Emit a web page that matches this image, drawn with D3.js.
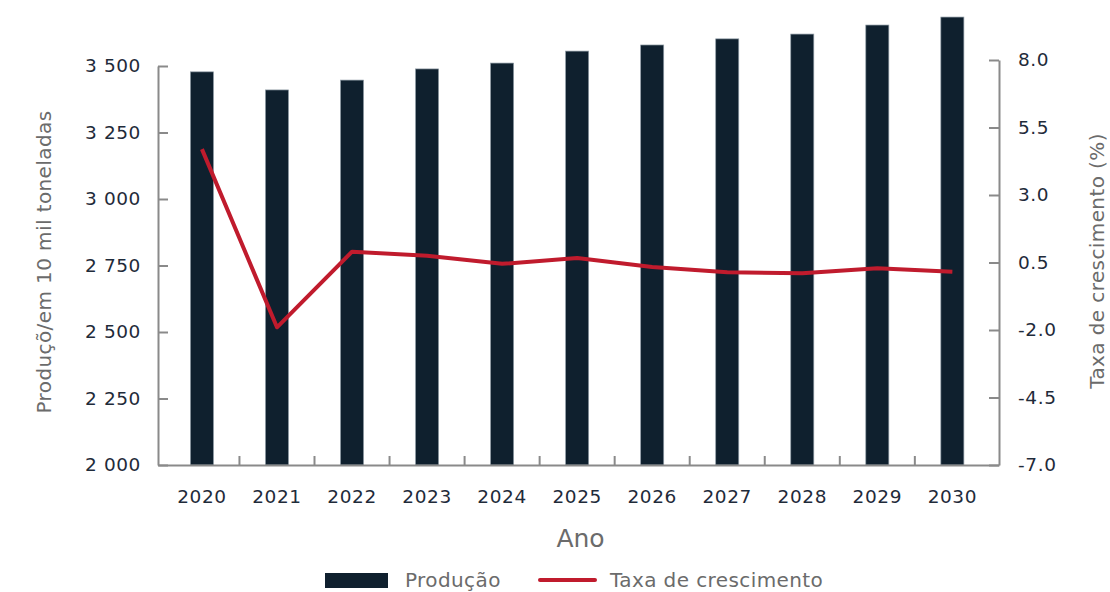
<!DOCTYPE html>
<html>
<head>
<meta charset="utf-8">
<script src="https://cdn.jsdelivr.net/npm/d3@7"></script>
<style>
  body { margin: 0; background: #fff; }
  svg text { font-family: "DejaVu Sans", sans-serif; }
</style>
</head>
<body>
<svg id="chart" width="1110" height="592"></svg>
<script>
// data
const years = ["2020", "2021", "2022", "2023", "2024", "2025", "2026", "2027", "2028", "2029", "2030"];
const production = [3478, 3410, 3447, 3489, 3511, 3556, 3579, 3602, 3620, 3654, 3684];
const growthRate = [4.7, -1.9, 0.9, 0.75, 0.45, 0.67, 0.33, 0.14, 0.1, 0.29, 0.16];
const leftTicks = [2000, 2250, 2500, 2750, 3000, 3250, 3500];
const rightTicks = [-7.0, -4.5, -2.0, 0.5, 3.0, 5.5, 8.0];

const barColor = "#0f202e";
const lineColor = "#c01b2d";
const axisColor = "#8a8a8a";
const labelColor = "#1f2b3a";
const titleColor = "#6b6b6b";

const svg = d3.select("#chart");
const plot = { left: 158, right: 999, top: 60, bottom: 465 };

const x = d3.scaleBand()
  .domain(years)
  .range([plot.left, plot.right])
  .paddingInner(0.693)
  .paddingOuter(0.45)
  .align(0.48);

const yLeft = d3.scaleLinear().domain([2000, 3500]).range([plot.bottom, 66]);
const yRight = d3.scaleLinear().domain([-7, 8]).range([plot.bottom, plot.top]);

const fmtThousands = d => d3.format(",")(d).replace(",", " ");
const fmtRate = d => d3.format(".1f")(d).replace("−", "-");

// bars
svg.append("g")
  .selectAll("rect")
  .data(years)
  .join("rect")
    .attr("x", d => x(d))
    .attr("y", (d, i) => yLeft(production[i]))
    .attr("width", x.bandwidth())
    .attr("height", (d, i) => yLeft(2000) - yLeft(production[i]))
    .attr("fill", barColor)
    .attr("stroke", "#8e9aa4")
    .attr("stroke-width", 0.7);

// left axis
const gLeft = svg.append("g")
  .attr("transform", `translate(${plot.left},0)`)
  .call(d3.axisLeft(yLeft).tickValues(leftTicks).tickFormat(fmtThousands)
    .tickSize(-10).tickSizeOuter(0).tickPadding(17));

// right axis
const gRight = svg.append("g")
  .attr("transform", `translate(${plot.right},0)`)
  .call(d3.axisRight(yRight).tickValues(rightTicks).tickFormat(fmtRate)
    .tickSize(-10).tickSizeOuter(0).tickPadding(19));

// bottom axis (labels only, ticks between categories drawn below)
const gBottom = svg.append("g")
  .attr("transform", `translate(0,${plot.bottom})`)
  .call(d3.axisBottom(x).tickSize(0).tickSizeOuter(0).tickPadding(25));

svg.append("g")
  .selectAll("line")
  .data(years.slice(1))
  .join("line")
    .attr("x1", d => x(d) - x.step() * x.paddingInner() / 2)
    .attr("x2", d => x(d) - x.step() * x.paddingInner() / 2)
    .attr("y1", plot.bottom)
    .attr("y2", plot.bottom - 9)
    .attr("stroke", axisColor)
    .attr("stroke-width", 2);

[gLeft, gRight, gBottom].forEach(g => {
  g.selectAll(".domain, .tick line").attr("stroke", axisColor).attr("stroke-width", 2);
  g.selectAll(".tick text")
    .attr("fill", labelColor)
    .style("font-family", "DejaVu Sans, sans-serif")
    .style("font-size", "18.5px")
    .style("letter-spacing", "0.6px");
});

// growth line
const line = d3.line()
  .x((d, i) => x(years[i]) + x.bandwidth() / 2)
  .y(d => yRight(d));

svg.append("path")
  .datum(growthRate)
  .attr("d", line)
  .attr("fill", "none")
  .attr("stroke", lineColor)
  .attr("stroke-width", 4)
  .attr("stroke-linejoin", "round");

// axis titles
svg.append("text")
  .attr("transform", `translate(51,262) rotate(-90)`)
  .attr("text-anchor", "middle")
  .attr("fill", titleColor)
  .style("font-size", "20px")
  .style("letter-spacing", "0.4px")
  .text("Produçõ/em 10 mil toneladas");

svg.append("text")
  .attr("transform", `translate(1104,261) rotate(-90)`)
  .attr("text-anchor", "middle")
  .attr("fill", titleColor)
  .style("font-size", "20px")
  .style("letter-spacing", "0.4px")
  .text("Taxa de crescimento (%)");

svg.append("text")
  .attr("x", (plot.left + plot.right) / 2 + 2)
  .attr("y", 547)
  .attr("text-anchor", "middle")
  .attr("fill", titleColor)
  .style("font-size", "25px")
  .text("Ano");

// legend
const legend = svg.append("g").attr("transform", "translate(325,580)");
legend.append("rect")
  .attr("x", 0).attr("y", -7)
  .attr("width", 63).attr("height", 15)
  .attr("fill", barColor);
legend.append("text")
  .attr("x", 80).attr("y", 7)
  .attr("fill", titleColor)
  .style("font-size", "20px")
  .style("letter-spacing", "0.4px")
  .text("Produção");
legend.append("line")
  .attr("x1", 215).attr("x2", 270)
  .attr("y1", 0).attr("y2", 0)
  .attr("stroke", lineColor)
  .attr("stroke-width", 4)
  .attr("stroke-linecap", "round");
legend.append("text")
  .attr("x", 285).attr("y", 7)
  .attr("fill", titleColor)
  .style("font-size", "20px")
  .style("letter-spacing", "0.4px")
  .text("Taxa de crescimento");
</script>
</body>
</html>
